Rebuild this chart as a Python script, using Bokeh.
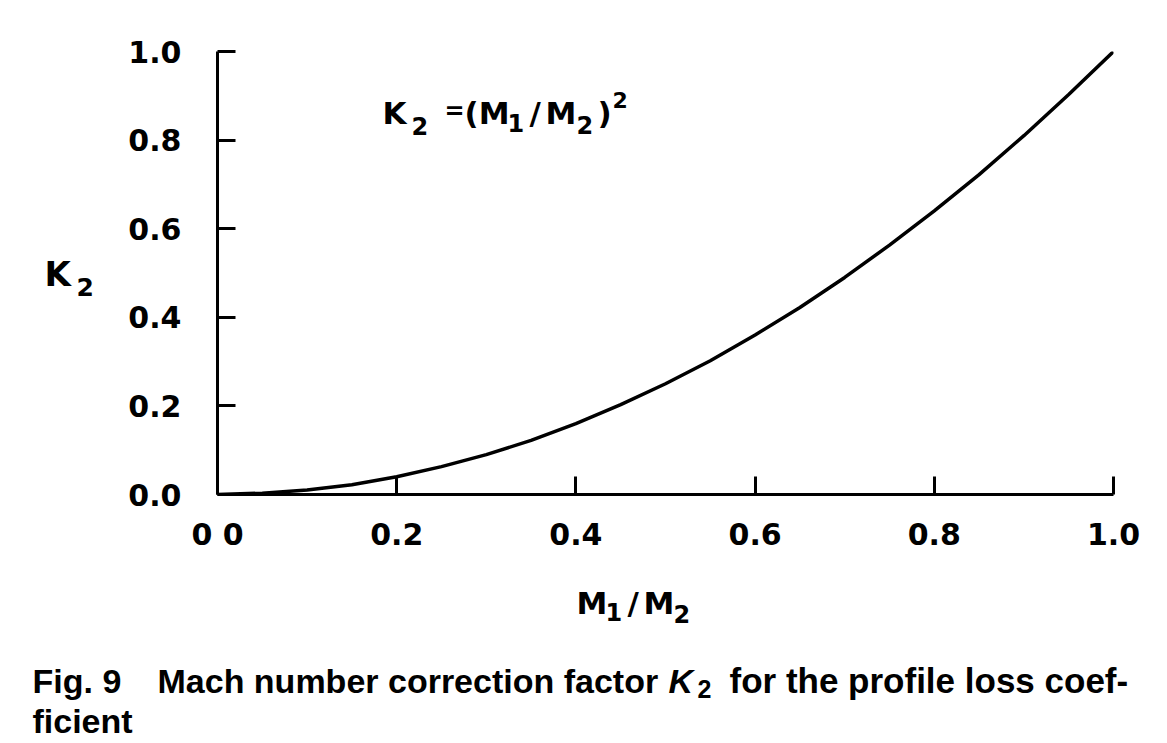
from bokeh.plotting import figure
from bokeh.models import Label, FixedTicker
from bokeh.layouts import column, row
from bokeh.embed import file_html
from bokeh.resources import INLINE

# ---- data ----
mach_ratio = [0.0, 0.05, 0.1, 0.15, 0.2, 0.25, 0.3, 0.35, 0.4, 0.45, 0.5,
              0.55, 0.6, 0.65, 0.7, 0.75, 0.8, 0.85, 0.9, 0.95, 1.0]
k2_values = [0.0, 0.003, 0.01, 0.022, 0.04, 0.063, 0.09, 0.122, 0.16, 0.203, 0.25,
             0.302, 0.36, 0.422, 0.49, 0.563, 0.64, 0.722, 0.81, 0.903, 1.0]
tick_values = [0.0, 0.2, 0.4, 0.6, 0.8, 1.0]
x_tick_labels = ["0 0", "0.2", "0.4", "0.6", "0.8", "1.0"]
y_tick_labels = ["0.0", "0.2", "0.4", "0.6", "0.8", "1.0"]

FONT = "DejaVu Sans"
CAP_FONT = "Liberation Sans"

W, H = 1167, 743
MAIN_H = 560
LEFT_W = 110
# frame placement in page pixels
X0, X1 = 217, 1113
Y0, Y1 = 494, 51


def blank_panel(width, height, xr, yr):
    f = figure(width=width, height=height, x_range=xr, y_range=yr,
               output_backend="svg", toolbar_location=None,
               min_border_left=0, min_border_right=0,
               min_border_top=0, min_border_bottom=0)
    f.xaxis.visible = False
    f.yaxis.visible = False
    f.xgrid.grid_line_color = None
    f.ygrid.grid_line_color = None
    f.outline_line_color = None
    f.background_fill_color = "white"
    f.border_fill_color = "white"
    f.frame_align = False
    return f


p = figure(width=W - LEFT_W, height=MAIN_H, x_range=(0, 1), y_range=(0, 1),
           output_backend="svg", toolbar_location=None,
           min_border_left=X0 - LEFT_W, min_border_right=W - X1,
           min_border_top=Y1, min_border_bottom=MAIN_H - Y0)
p.frame_align = False
p.outline_line_color = None
p.xgrid.grid_line_color = None
p.ygrid.grid_line_color = None
p.background_fill_color = "white"
p.border_fill_color = "white"

for ax in (p.xaxis[0], p.yaxis[0]):
    ax.ticker = FixedTicker(ticks=tick_values)
    ax.axis_line_width = 3
    ax.axis_line_color = "black"
    ax.major_tick_line_width = 3
    ax.major_tick_line_color = "black"
    ax.major_tick_in = 18
    ax.major_tick_out = 0
    ax.minor_tick_line_color = None
    ax.major_label_text_font = FONT
    ax.major_label_text_font_style = "bold"
    ax.major_label_text_font_size = "30px"
    ax.major_label_text_color = "black"

p.xaxis[0].major_label_overrides = {t: s for t, s in zip(tick_values, x_tick_labels)}
p.yaxis[0].major_label_overrides = {t: s for t, s in zip(tick_values, y_tick_labels)}
p.xaxis[0].major_label_standoff = 22
p.yaxis[0].major_label_standoff = 36

p.line(mach_ratio, k2_values, line_width=3.5, line_color="black")


def lab(fig, text, x, y, size, style="bold", font=FONT, units="data",
        baseline="middle"):
    if units == "screen":
        # page pixels -> screen units measured from the frame's bottom-left
        x, y = x - X0, Y0 - y
    fig.add_layout(Label(x=x, y=y, x_units=units, y_units=units,
                         text=text, text_font=font,
                         text_font_style=style, text_font_size=f"{size}px",
                         text_align="left", text_baseline=baseline,
                         text_color="black", level="overlay"))

# in-plot formula  K2 = (M1/M2)^2
lab(p, "K", 382, 112, 31, units="screen")
lab(p, "2", 411, 125, 24, units="screen")
lab(p, "=", 444, 110, 24, units="screen")
lab(p, "(M", 464, 112, 31, units="screen")
lab(p, "1", 507, 122, 24, units="screen")
lab(p, "/", 529, 112, 31, units="screen")
lab(p, "M", 545, 112, 31, units="screen")
lab(p, "2", 576, 124, 24, units="screen")
lab(p, ")", 597, 112, 31, units="screen")
lab(p, "2", 612, 99, 22, units="screen")

# left text panel (y-axis label K2); data coordinates equal page pixels
left = blank_panel(LEFT_W, MAIN_H, (0, LEFT_W), (MAIN_H, 0))
lab(left, "K", 44, 273, 34)
lab(left, "2", 76, 286, 25)

# lower text panel; data coordinates equal page pixels
q = blank_panel(W, H - MAIN_H, (0, W), (H, MAIN_H))

# x-axis label M1/M2
lab(q, "M", 576, 602, 31)
lab(q, "1", 605, 611, 24)
lab(q, "/", 627, 602, 31)
lab(q, "M", 643, 602, 31)
lab(q, "2", 673, 613, 24)

# caption
lab(q, "Fig. 9", 32, 680, 34, font=CAP_FONT, baseline="alphabetic")
lab(q, "Mach number correction factor", 157, 680, 34, font=CAP_FONT, baseline="alphabetic")
lab(q, "K", 668, 680, 34, style="bold italic", font=CAP_FONT, baseline="alphabetic")
lab(q, "2", 697, 688, 25, font=CAP_FONT, baseline="alphabetic")
lab(q, "for the profile loss coef-", 729, 680, 35, font=CAP_FONT, baseline="alphabetic")
lab(q, "ficient", 32, 720, 34, font=CAP_FONT, baseline="alphabetic")

layout = column(row(left, p, spacing=0), q, spacing=0)
open("out.html", "w").write(file_html(layout, INLINE))
